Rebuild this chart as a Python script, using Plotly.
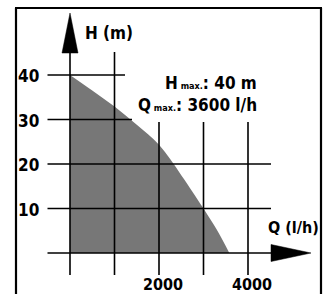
import plotly.graph_objects as go

# ---- data ----
flow_q = [0, 500, 1000, 1500, 2000, 2500, 3000, 3300, 3580]   # l/h
head_h = [40, 36.5, 32.9, 28.8, 24.3, 17.5, 10, 5.2, 0]       # m
y_ticks = [10, 20, 30, 40]
y_tick_labels = ["10", "20", "30", "40"]
x_ticks = [2000, 4000]
x_tick_labels = ["2000", "4000"]
x_grid = [0, 1000, 2000, 3000, 4000]
h_grid = [0, 10, 20, 30, 40]

W, H = 326, 294
# pixel <-> data mapping
PX_Q0, PX_PER_Q = 70.0, 44.5 / 1000.0
PX_H0, PX_PER_H = 253.0, 4.45

def qx(px):
    return (px - PX_Q0) / PX_PER_Q

def hy(py):
    return (PX_H0 - py) / PX_PER_H

FONT = "DejaVu Sans Condensed, Liberation Sans Narrow, Arial Narrow, sans-serif"
def fnt(size):
    return dict(size=size, family=FONT, color="black", weight="bold")

def cond(t):
    return f"<span style='font-stretch:condensed'>{t}</span>"

fig = go.Figure()
fig.add_trace(go.Scatter(
    x=flow_q, y=head_h, mode="lines", fill="tozeroy", line_shape="spline",
    fillcolor="#777777", line=dict(width=0, color="#777777"),
    hoverinfo="skip", showlegend=False))

shapes = []
def line(x0, y0, x1, y1, w=1.5):
    shapes.append(dict(type="line", x0=x0, y0=y0, x1=x1, y1=y1, xref="x", yref="y",
                       line=dict(color="black", width=w)))

# horizontal grid lines
h_ends = {0: qx(271), 10: qx(271), 20: qx(271), 30: qx(132), 40: qx(125)}
for h in h_grid:
    line(qx(47.5), h, h_ends[h], h, 1.6)
# vertical grid lines
v_tops = {0: hy(50), 1000: hy(52), 2000: hy(122), 3000: hy(122), 4000: hy(122)}
for q in x_grid:
    line(q, hy(275), q, v_tops[q], 1.6)

# arrows
shapes.append(dict(type="path", xref="x", yref="y",
                   path=f"M {qx(62)},{hy(53)} L {qx(70)},{hy(13)} L {qx(78)},{hy(53)} Z",
                   fillcolor="black", line=dict(color="black", width=0.5)))
shapes.append(dict(type="path", xref="x", yref="y",
                   path=f"M {qx(271)},{hy(244.5)} L {qx(311)},{hy(253)} L {qx(271)},{hy(261.5)} Z",
                   fillcolor="black", line=dict(color="black", width=0.5)))

# frame
for (x0, y0, x1, y1) in [(16, 8, 16, 300), (15, 8, 322, 8), (321, 8, 321, 300)]:
    shapes.append(dict(type="line", xref="paper", yref="paper",
                       x0=x0 / W, x1=x1 / W, y0=1 - y0 / H, y1=1 - y1 / H,
                       line=dict(color="black", width=2.2)))

ann = []
for v, t in zip(y_ticks, y_tick_labels):
    ann.append(dict(x=qx(28.5), y=v + hy(76) - 40, text=cond(t), showarrow=False,
                    xanchor="center", yanchor="middle", font=fnt(17)))
for v, t in zip(x_ticks, x_tick_labels):
    ann.append(dict(x=v + 100, y=hy(284), text=cond(t), showarrow=False,
                    xanchor="center", yanchor="middle", font=fnt(16)))

ann.append(dict(x=qx(83), y=hy(33), text=cond("H (m)"), showarrow=False, xanchor="left",
                yanchor="middle", font=fnt(17)))
ann.append(dict(x=qx(321), y=hy(227), text=cond("Q (l/h)"), showarrow=False, xanchor="right",
                yanchor="middle", font=fnt(16)))
ann.append(dict(x=qx(259), y=hy(83),
                text=cond("H<span style='font-size:9px;font-stretch:condensed'> max.</span>: 40 m"),
                showarrow=False, xanchor="right", yanchor="middle", font=fnt(17)))
ann.append(dict(x=qx(259), y=hy(105),
                text=cond("Q<span style='font-size:9px;font-stretch:condensed'> max.</span>: 3600 l/h"),
                showarrow=False, xanchor="right", yanchor="middle", font=fnt(17)))

fig.update_layout(
    width=W, height=H, margin=dict(l=0, r=0, t=0, b=0),
    paper_bgcolor="white", plot_bgcolor="white",
    xaxis=dict(range=[qx(0), qx(W)], visible=False, fixedrange=True),
    yaxis=dict(range=[hy(H), hy(0)], visible=False, fixedrange=True),
    shapes=shapes, annotations=ann, showlegend=False)

fig.write_html("out.html", config={"displayModeBar": False},
               post_script="document.body.style.margin='0';document.body.style.padding='0';")
